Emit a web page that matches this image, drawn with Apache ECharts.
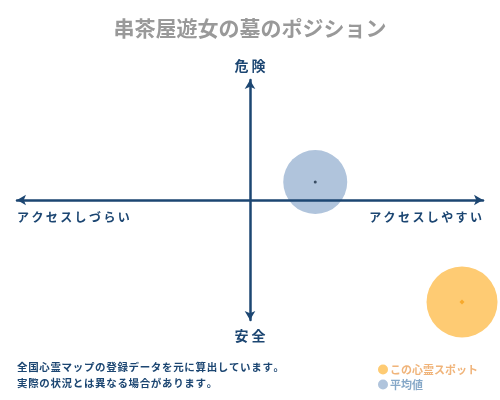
<!DOCTYPE html>
<html><head><meta charset="utf-8">
<script src="https://cdn.jsdelivr.net/npm/echarts@6/dist/echarts.min.js"></script>
<style>html,body{margin:0;padding:0;background:#fff}#c{width:500px;height:400px}</style>
</head><body><div id="c"></div>
<script>
const titleText = '串茶屋遊女の墓のポジション';
const spotName = 'この心霊スポット';
const avgName = '平均値';
const spotPoint = [9.1, -8.5];
const avgPoint = [2.8, 1.5];
const axisLabels = { top: '危 険', bottom: '安 全', left: 'アクセスしづらい', right: 'アクセスしやすい' };
const notes = ['全国心霊マップの登録データを元に算出しています。', '実際の状況とは異なる場合があります。'];

const spaced = (s, sp) => s.split('').join(sp);
const navy = '#1c4672';
const font = '"Noto Sans CJK JP", sans-serif';
const chart = echarts.init(document.getElementById('c'));
const axisCommon = {
  type: 'value', min: -10, max: 10, z: 10,
  axisLine: { onZero: true, symbol: ['arrow', 'arrow'], symbolSize: [8, 9], lineStyle: { color: navy, width: 2.5 } },
  axisTick: { show: false }, axisLabel: { show: false }, splitLine: { show: false }
};
chart.setOption({
  animation: false,
  title: { text: titleText, left: 'center', top: 13, textStyle: { color: '#999', fontSize: 21, fontWeight: 'bold', fontFamily: font } },
  grid: { left: 17, right: 17, top: 80, bottom: 80 },
  xAxis: Object.assign({}, axisCommon),
  yAxis: Object.assign({}, axisCommon),
  legend: {
    orient: 'vertical', left: 373, top: 359, itemWidth: 10, itemHeight: 10, itemGap: 4,
    icon: 'circle', selectedMode: false,
    textStyle: { fontFamily: font, fontSize: 11, fontWeight: 'bold', padding: [0, 0, 0, -3] },
    data: [
      { name: spotName, textStyle: { color: '#f0b47a' } },
      { name: avgName, textStyle: { color: '#86a8c8' } }
    ]
  },
  series: [
    { name: spotName, type: 'scatter', symbolSize: 71, data: [spotPoint], z: 2,
      itemStyle: { color: '#fecb73', opacity: 1 } },
    { name: avgName, type: 'scatter', symbolSize: 64, data: [avgPoint], z: 2,
      itemStyle: { color: '#b0c4dc', opacity: 1 } },
    { name: 'spotDot', type: 'scatter', symbol: 'diamond', symbolSize: 5, data: [spotPoint], z: 20,
      itemStyle: { color: '#f5a01a' } },
    { name: 'avgDot', type: 'scatter', symbolSize: 3, data: [avgPoint], z: 20,
      itemStyle: { color: '#1c2f45' } }
  ],
  graphic: [
    { type: 'text', left: 'center', top: 59, style: { text: axisLabels.top, fill: navy, font: 'bold 14px ' + font } },
    { type: 'text', left: 'center', top: 329, style: { text: axisLabels.bottom, fill: navy, font: 'bold 14px ' + font } },
    { type: 'text', left: 17, top: 211, style: { text: spaced(axisLabels.left, '\u2009'), fill: navy, font: 'bold 12px ' + font } },
    { type: 'text', right: 18, top: 211, style: { text: spaced(axisLabels.right, '\u2009'), fill: navy, font: 'bold 12px ' + font } },
    { type: 'text', left: 17, top: 362, style: { text: spaced(notes[0], '\u200A'), fill: navy, font: 'bold 10.5px ' + font } },
    { type: 'text', left: 17, top: 378, style: { text: spaced(notes[1], '\u200A'), fill: navy, font: 'bold 10.5px ' + font } }
  ]
});
</script></body></html>
